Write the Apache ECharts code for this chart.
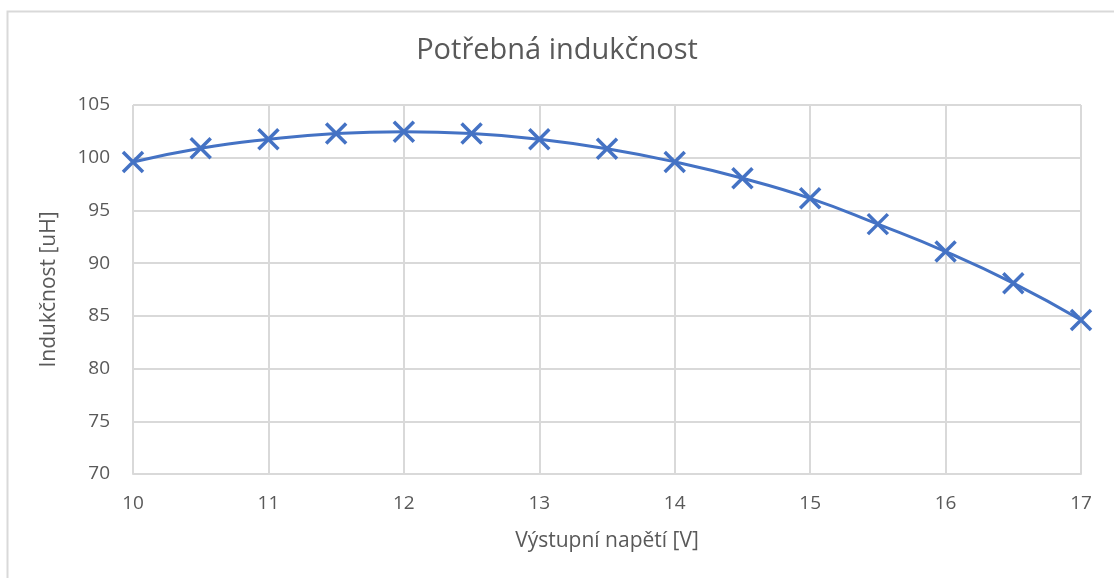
<!DOCTYPE html>
<html>
<head>
<meta charset="utf-8">
<script src="https://cdn.jsdelivr.net/npm/echarts@6/dist/echarts.min.js"></script>
<style>
  html, body { margin: 0; padding: 0; background: #fff; }
  #chart { width: 1114px; height: 578px; }
</style>
</head>
<body>
<div id="chart"></div>
<script>
// napětí [V]
const voltage = [10, 10.5, 11, 11.5, 12, 12.5, 13, 13.5, 14, 14.5, 15, 15.5, 16, 16.5, 17];
// indukčnost [uH]
const inductance = [99.6, 100.9, 101.75, 102.3, 102.47, 102.3, 101.75, 100.85, 99.6, 98.05, 96.15, 93.7, 91.1, 88.1, 84.6];

const yMin = 70, yMax = 105, yStep = 5;
const xMin = 10, xMax = 17, xStep = 1;

const textColor = "#595959";
const gridColor = "#d9d9d9";
const lineColor = "#4472C4";
const font = "Open Sans";

const chart = echarts.init(document.getElementById("chart"));

chart.setOption({
    backgroundColor: "#fff",
    animation: false,
    title: {
        text: "Potřebná indukčnost",
        left: "center",
        top: 31,
        textStyle: { color: textColor, fontSize: 29, fontWeight: "normal", fontFamily: font }
    },
    graphic: [{
        type: "rect",
        shape: { x: 7.5, y: 11.5, width: 1200, height: 700 },
        style: { fill: "none", stroke: gridColor, lineWidth: 2 },
        silent: true
    }],
    grid: { left: 133, right: 33, top: 105, bottom: 104 },
    xAxis: {
        type: "value",
        min: xMin,
        max: xMax,
        interval: xStep,
        name: "Výstupní napětí [V]",
        nameLocation: "middle",
        nameGap: 57,
        nameTextStyle: { color: textColor, fontSize: 21, fontFamily: font },
        axisLine: { show: true, lineStyle: { color: gridColor, width: 2 } },
        axisTick: { show: false },
        axisLabel: { color: textColor, fontSize: 19, fontFamily: font, margin: 20 },
        splitLine: { show: true, lineStyle: { color: gridColor, width: 2 } }
    },
    yAxis: {
        type: "value",
        min: yMin,
        max: yMax,
        interval: yStep,
        name: "Indukčnost [uH]",
        nameLocation: "middle",
        nameGap: 73,
        nameTextStyle: { color: textColor, fontSize: 21, fontFamily: font },
        axisLine: { show: false },
        axisTick: { show: false },
        axisLabel: { color: textColor, fontSize: 19, fontFamily: font, margin: 23 },
        splitLine: { show: true, lineStyle: { color: gridColor, width: 2 } }
    },
    series: [{
        type: "line",
        data: voltage.map((v, i) => [v, inductance[i]]),
        smooth: true,
        lineStyle: { color: lineColor, width: 3 },
        symbol: "path://M0,0L10,10M10,0L0,10",
        symbolSize: 20,
        itemStyle: { color: "none", borderColor: lineColor, borderWidth: 3.5 },
        clip: false
    }]
});
</script>
</body>
</html>
